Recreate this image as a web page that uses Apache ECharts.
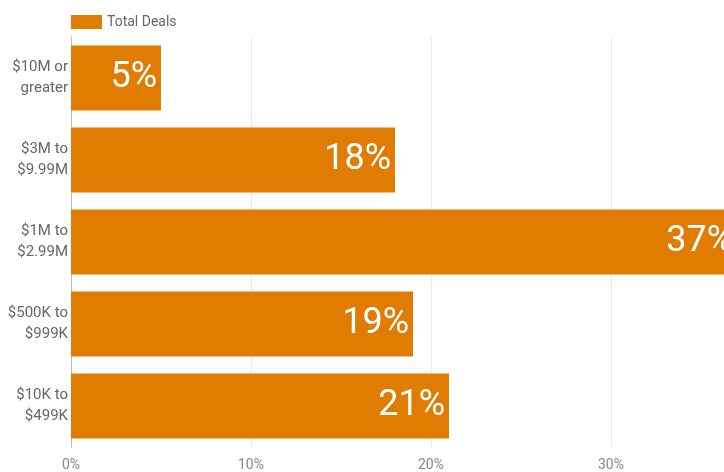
<!DOCTYPE html>
<html>
<head>
<meta charset="utf-8">
<script src="https://cdn.jsdelivr.net/npm/echarts@6/dist/echarts.min.js"></script>
<style>
  html, body { margin: 0; padding: 0; background: #fff; }
  #chart { width: 724px; height: 472px; }
</style>
</head>
<body>
<div id="chart"></div>
<script>
// Deal size buckets, top to bottom as shown
const categories = ['$10M or\ngreater', '$3M to\n$9.99M', '$1M to\n$2.99M', '$500K to\n$999K', '$10K to\n$499K'];
const totalDeals = [5, 18, 37, 19, 21];
const seriesName = 'Total Deals';
const xTicks = [0, 10, 20, 30, 40];

const chart = echarts.init(document.getElementById('chart'));
chart.setOption({
  animation: false,
  textStyle: { fontFamily: 'Roboto, "Noto Sans", sans-serif' },
  legend: {
    data: [seriesName],
    left: 71,
    top: 15,
    padding: 0,
    icon: 'rect',
    itemWidth: 31,
    itemHeight: 14,
    itemGap: 8,
    textStyle: { color: '#666', fontSize: 14 }
  },
  grid: { left: 71, top: 37, width: 720, height: 410, outerBoundsMode: 'none', containLabel: false },
  xAxis: {
    type: 'value',
    min: xTicks[0],
    max: xTicks[xTicks.length - 1],
    interval: 10,
    axisLine: { show: false },
    axisTick: { show: false },
    splitLine: { show: true, lineStyle: { color: '#ebebeb', width: 1 } },
    axisLabel: { color: '#888', fontSize: 14, margin: 11, formatter: v => v + '%' }
  },
  yAxis: {
    type: 'category',
    inverse: true,
    data: categories,
    axisLine: { show: true, lineStyle: { color: '#bbb', width: 1 } },
    axisTick: { show: false },
    axisLabel: { color: '#666', fontSize: 15, lineHeight: 21, margin: 3, align: 'right' }
  },
  series: [{
    name: seriesName,
    type: 'bar',
    data: totalDeals,
    barCategoryGap: '21%',
    itemStyle: { color: '#e07c02' },
    label: {
      show: true,
      position: 'insideRight',
      distance: 4,
      color: '#fff',
      fontSize: 36,
      formatter: p => p.value + '%'
    }
  }]
});
</script>
</body>
</html>
